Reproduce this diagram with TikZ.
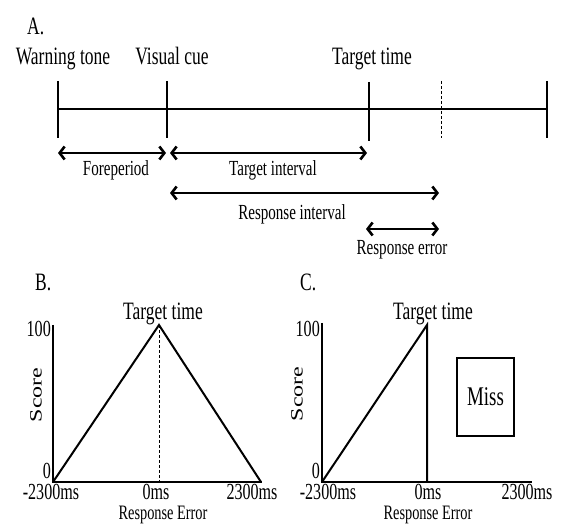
\documentclass[tikz,border=0pt]{standalone}
\usepackage{fontspec}
\setmainfont{Liberation Serif}[FakeStretch=0.7]
\newfontfamily\plainserif{Liberation Serif}
\usetikzlibrary{arrows.meta}
\begin{document}
\begin{tikzpicture}[x=1pt,y=-1pt,
  big/.style={font=\fontsize{25}{25}\selectfont, inner sep=0pt, anchor=base},
  small/.style={font=\fontsize{21.5}{21.5}\selectfont, inner sep=0pt, anchor=base},
  tick/.style={font=\fontsize{23}{23}\selectfont, inner sep=0pt, anchor=base},
  axislab/.style={font=\fontsize{20.5}{20.5}\selectfont, inner sep=0pt, anchor=base},
  axis/.style={line width=2pt, line join=miter},
  tl/.style={line width=1.6pt},
  dsh/.style={line width=1pt, dash pattern=on 3pt off 2pt},
  dbl/.style={line width=2.6pt, {Straight Barb[length=5pt,width=13pt]}-{Straight Barb[length=5pt,width=13pt]}},
  scorelab/.style={inner sep=0pt, font=\plainserif\fontsize{24}{24}\selectfont}
]
\useasboundingbox (0,0) rectangle (566,529);
% ---------- Panel A ----------
\node[big, anchor=base west] (labA) at (27,35) {A.};
\node[big] (warn) at (63,65) {Warning tone};
\node[big] (cue) at (172,65) {Visual cue};
\node[big] (tgtA) at (372,65) {Target time};
\coordinate (t0) at (58,109);
\coordinate (t1) at (167,109);
\coordinate (t2) at (369,109);
\coordinate (t3) at (441,109);
\coordinate (t4) at (547,109);
\draw[tl] (t0) -- (t4);
\draw[tl] (58,81) -- (58,138);
\draw[tl] (167,81) -- (167,138);
\draw[tl] (369,82) -- (369,141);
\draw[tl] (547,81) -- (547,138);
\draw[dsh] (441,81) -- (441,138);
% arrows
\coordinate (fa) at (58,153);
\coordinate (fb) at (166,153);
\coordinate (ta) at (170,153);
\coordinate (tb) at (367,153);
\coordinate (ra) at (170,193);
\coordinate (rb) at (439,193);
\coordinate (ea) at (366,229);
\coordinate (eb) at (439,229);
\draw[dbl] (fa) -- (fb);
\draw[dbl] (ta) -- (tb);
\draw[dbl] (ra) -- (rb);
\draw[dbl] (ea) -- (eb);
\node[small] (fore) at (116,176) {Foreperiod};
\node[small] (tint) at (273,176) {Target interval};
\node[small] (rint) at (292,220) {Response interval};
\node[small] (rerr) at (402,255) {Response error};
% ---------- Panel B ----------
\node[big, anchor=base west] (labB) at (35,291) {B.};
\node[big] (tgtB) at (163,320) {Target time};
\node[tick, anchor=base east] (hB) at (51,337) {100};
\node[tick, anchor=base east] (zB) at (51,479) {0};
\node[scorelab, rotate=90] (scB) at (36,395) {\scalebox{1}[0.72]{Score}};
\coordinate (oB) at (53,482);
\coordinate (yB) at (53,325);
\coordinate (xB) at (262,482);
\coordinate (pB) at (159,325);
\coordinate (bB) at (159,482);
\coordinate (rB) at (261,482);
\draw[axis] (yB) -- (oB) -- (xB);
\draw[axis] (oB) -- (pB) -- (rB);
\draw[dsh] (pB) -- (bB);
\node[tick] (mB1) at (51,500) {-2300ms};
\node[tick] (mB2) at (156,500) {0ms};
\node[tick] (mB3) at (252,500) {2300ms};
\node[axislab] (reB) at (163,520) {Response Error};
% ---------- Panel C ----------
\node[big, anchor=base west] (labC) at (300,291) {C.};
\node[big] (tgtC) at (433,320) {Target time};
\node[tick, anchor=base east] (hC) at (320,337) {100};
\node[tick, anchor=base east] (zC) at (320,479) {0};
\node[scorelab, rotate=90] (scC) at (297,394) {\scalebox{1}[0.72]{Score}};
\coordinate (oC) at (322,482);
\coordinate (yC) at (322,323);
\coordinate (xC) at (532,482);
\coordinate (pC) at (427,325);
\coordinate (bC) at (427,482);
\draw[axis] (yC) -- (oC) -- (xC);
\draw[axis] (oC) -- (pC) -- (bC);
\node[draw, line width=1.5pt, minimum width=57pt, minimum height=78pt, inner sep=0pt,
      font=\fontsize{27}{27}\selectfont] (miss) at (485.5,397) {Miss};
\node[tick] (mC1) at (328,500) {-2300ms};
\node[tick] (mC2) at (428,500) {0ms};
\node[tick] (mC3) at (527,500) {2300ms};
\node[axislab] (reC) at (428,520) {Response Error};
\end{tikzpicture}
\end{document}
